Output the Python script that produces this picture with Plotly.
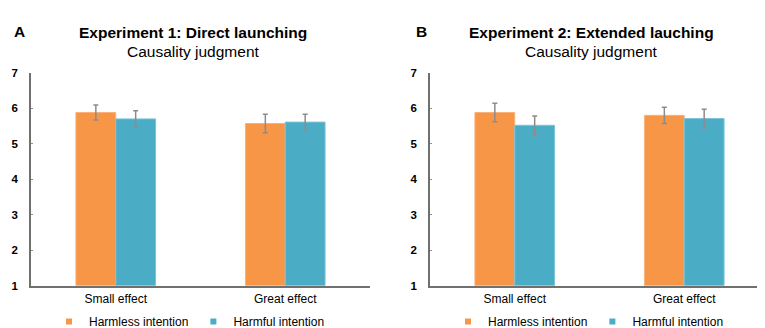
import plotly.graph_objects as go

categories = ["Small effect", "Great effect"]
series_names = ["Harmless intention", "Harmful intention"]

exp1_harmless = [5.88, 5.57]
exp1_harmless_err = [0.21, 0.26]
exp1_harmful = [5.70, 5.61]
exp1_harmful_err = [0.23, 0.22]

exp2_harmless = [5.88, 5.80]
exp2_harmless_err = [0.26, 0.23]
exp2_harmful = [5.52, 5.71]
exp2_harmful_err = [0.26, 0.26]

panel_titles = ["Experiment 1: Direct launching", "Experiment 2: Extended lauching"]
panel_subtitle = "Causality judgment"
panel_letters = ["A", "B"]
y_ticks = [1, 2, 3, 4, 5, 6, 7]

ORANGE = "#F79646"
BLUE = "#4BACC6"
ORANGE_EDGE = "#FAB27A"
BLUE_EDGE = "#7CC4D8"
ERR = "#8C8C8C"
FONT = "Arial, Liberation Sans, sans-serif"

W, H = 765, 328

def px_x(p):
    return p / W

def px_y(p):
    return 1 - p / H

fig = go.Figure()

panels = [
    (exp1_harmless, exp1_harmless_err, exp1_harmful, exp1_harmful_err, "x", "y", "legend"),
    (exp2_harmless, exp2_harmless_err, exp2_harmful, exp2_harmful_err, "x2", "y2", "legend2"),
]

for vals_a, err_a, vals_b, err_b, xa, ya, leg in panels:
    for name, vals, errs, col, edge in [
        (series_names[0], vals_a, err_a, ORANGE, ORANGE_EDGE),
        (series_names[1], vals_b, err_b, BLUE, BLUE_EDGE),
    ]:
        fig.add_trace(go.Bar(
            x=categories, y=[v - 1 for v in vals], base=1, name=name,
            marker=dict(color=col, line=dict(color=edge, width=1)),
            error_y=dict(type="data", array=errs, color=ERR, thickness=1.5, width=2.5),
            xaxis=xa, yaxis=ya, showlegend=False,
        ))
        fig.add_trace(go.Scatter(
            x=[None], y=[None], mode="markers", name=name,
            marker=dict(symbol="square", size=6, color=col),
            xaxis=xa, yaxis=ya, legend=leg, showlegend=True,
        ))

x_domains = [[px_x(23), px_x(362)], [px_x(422), px_x(761)]]
y_domain = [px_y(282), px_y(61)]

axis_common = dict(
    showgrid=False, zeroline=False, showline=True, linecolor="#707070", linewidth=1.5,
)

for i, suffix in enumerate(["", "2"]):
    fig.update_layout(**{
        f"xaxis{suffix}": dict(
            domain=x_domains[i], anchor=f"y{suffix}", type="category",
            ticks="", tickfont=dict(family=FONT, size=12, color="#000"),
            ticklabelstandoff=1, fixedrange=True, **axis_common,
        ),
        f"yaxis{suffix}": dict(
            domain=y_domain, anchor=f"x{suffix}", range=[1, 7],
            tickvals=y_ticks, ticks="inside", ticklen=2, tickcolor="#909090", tickwidth=1,
            tickfont=dict(family=FONT, size=11.5, color="#000", weight="bold"),
            ticklabelstandoff=9, fixedrange=True, **axis_common,
        ),
    })

annotations = []
title_centers = [185, 583]
letter_x = [11.5, 413]
for i in range(2):
    annotations.append(dict(
        text=f"<b>{panel_titles[i]}</b>", x=px_x(title_centers[i]), y=px_y(19),
        xref="paper", yref="paper", xanchor="center", yanchor="middle", showarrow=False,
        font=dict(family=FONT, size=15.5, color="#000"),
    ))
    annotations.append(dict(
        text=panel_subtitle, x=px_x(title_centers[i]), y=px_y(39),
        xref="paper", yref="paper", xanchor="center", yanchor="middle", showarrow=False,
        font=dict(family=FONT, size=15.5, color="#000"),
    ))
    annotations.append(dict(
        text=f"<b>{panel_letters[i]}</b>", x=px_x(letter_x[i]), y=px_y(18),
        xref="paper", yref="paper", xanchor="center", yanchor="middle", showarrow=False,
        font=dict(family=FONT, size=15.5, color="#000"),
    ))

legend_common = dict(
    orientation="h", xanchor="left", yanchor="middle", y=px_y(319.5),
    font=dict(family=FONT, size=12, color="#000"), itemwidth=30,
    bgcolor="rgba(0,0,0,0)", tracegroupgap=0, itemclick=False,
)

fig.update_layout(
    width=W, height=H,
    margin=dict(l=0, r=0, t=0, b=0),
    paper_bgcolor="white", plot_bgcolor="white",
    barmode="group", bargap=0.53, bargroupgap=0,
    annotations=annotations,
    legend=dict(x=px_x(41), **legend_common),
    legend2=dict(x=px_x(440), **legend_common),
)

fig.write_html("out.html", config={"displayModeBar": False})
